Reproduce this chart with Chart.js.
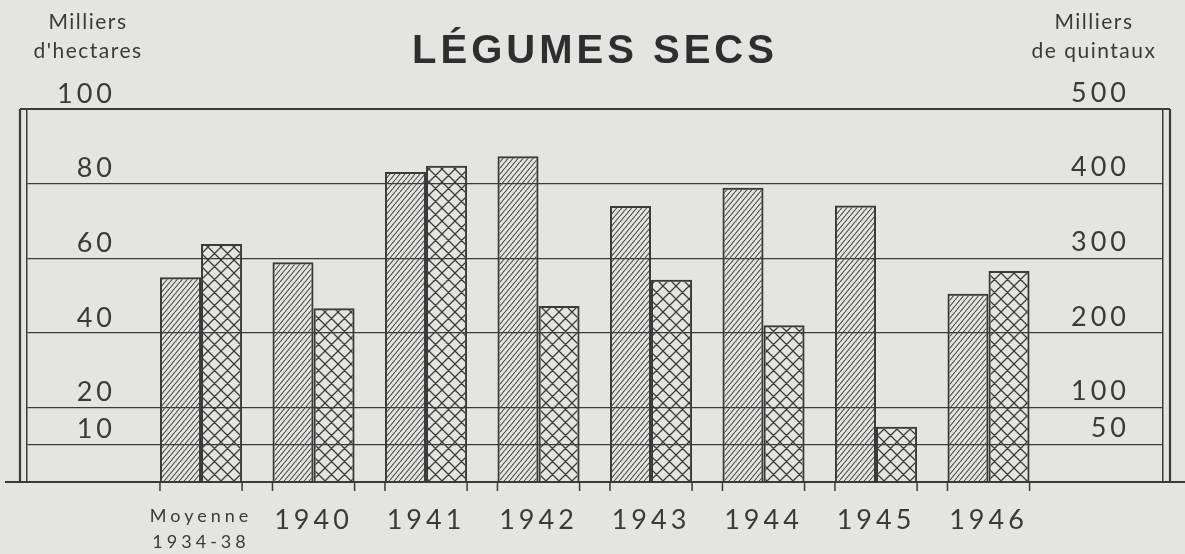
<!DOCTYPE html>
<html lang="fr">
<head>
<meta charset="utf-8">
<title>Légumes secs</title>
<script src="https://cdn.jsdelivr.net/npm/chart.js@4.4.1/dist/chart.umd.min.js"></script>
<style>
  html, body { margin: 0; padding: 0; background: #e4e4e2; }
  #wrap { position: relative; width: 1185px; height: 554px; }
</style>
</head>
<body>
<div id="wrap"><canvas id="chart"></canvas></div>
<script>
// Data
const chartTitle = "LÉGUMES SECS";
const categories = [["Moyenne", "1934-38"], "1940", "1941", "1942", "1943", "1944", "1945", "1946"];
const hectares = [54.9, 58.9, 83.1, 87.3, 74.0, 78.9, 74.1, 50.5];   // milliers d'hectares
const quintaux = [319, 233, 424, 236, 271, 210, 74, 283];            // milliers de quintaux
const hectareTicks = [10, 20, 40, 60, 80, 100];
const quintalTicks = [50, 100, 200, 300, 400, 500];
const leftUnit = ["Milliers", "d'hectares"];
const rightUnit = ["Milliers", "de quintaux"];

const INK = "#3a3a3a";

// Hatch fills
function hatchPattern() {
  const c = document.createElement("canvas");
  c.width = 5; c.height = 6;
  const g = c.getContext("2d");
  g.strokeStyle = "#484848";
  g.lineWidth = 1.1;
  g.beginPath();
  [-5, 0, 5].forEach(dx => { g.moveTo(dx, 6); g.lineTo(dx + 5, 0); });
  g.stroke();
  return g.createPattern(c, "repeat");
}

function crossPattern() {
  const s = 13;
  const c = document.createElement("canvas");
  c.width = s; c.height = s;
  const g = c.getContext("2d");
  g.strokeStyle = "#3c3c3c";
  g.lineWidth = 1.3;
  g.beginPath();
  [-s, 0, s].forEach(dx => {
    g.moveTo(dx, 0); g.lineTo(dx + s, s);
    g.moveTo(dx, s); g.lineTo(dx + s, 0);
  });
  g.stroke();
  return g.createPattern(c, "repeat");
}

// Frame, baseline, small ticks under bars, unit captions
const framePlugin = {
  id: "frame",
  beforeDraw(chart) {
    chart.ctx.letterSpacing = "4px";
  },
  afterDraw(chart) {
    const { ctx, chartArea: a } = chart;
    const y0 = chart.scales.y.getPixelForValue(0);
    const yTop = chart.scales.y.getPixelForValue(100);
    ctx.save();
    ctx.strokeStyle = INK;
    ctx.lineWidth = 2.2;
    ctx.beginPath();
    ctx.moveTo(a.left - 7, yTop); ctx.lineTo(a.left - 7, y0);
    ctx.moveTo(a.right + 7, yTop); ctx.lineTo(a.right + 7, y0);
    ctx.moveTo(a.left - 7, yTop); ctx.lineTo(a.right + 7, yTop);
    ctx.moveTo(5, y0); ctx.lineTo(chart.width, y0);
    ctx.stroke();

    const m0 = chart.getDatasetMeta(0);
    const m1 = chart.getDatasetMeta(1);
    ctx.lineWidth = 1.5;
    ctx.beginPath();
    m0.data.forEach((bar, i) => {
      const other = m1.data[i];
      const l = bar.x - bar.width / 2;
      const r = other.x + other.width / 2;
      ctx.moveTo(l, y0); ctx.lineTo(l, y0 + 9);
      ctx.moveTo(r, y0); ctx.lineTo(r, y0 + 9);
    });
    ctx.stroke();

    ctx.letterSpacing = "1.5px";
    ctx.fillStyle = INK;
    ctx.font = "400 21px Lato, 'DejaVu Sans', sans-serif";
    ctx.textAlign = "center";
    ctx.textBaseline = "alphabetic";
    leftUnit.forEach((t, k) => ctx.fillText(t, 88, 29 + 29 * k));
    rightUnit.forEach((t, k) => ctx.fillText(t, 1094, 29 + 29 * k));
    ctx.restore();
    ctx.letterSpacing = "0px";
  }
};

const tickFont = { family: "Lato, 'DejaVu Sans', sans-serif", size: 27, weight: 400 };
const smallFont = { family: "Lato, sans-serif", size: 18, weight: 400, lineHeight: 1.4 };

new Chart(document.getElementById("chart"), {
  type: "bar",
  data: {
    datasets: [
      {
        label: "Superficie",
        data: hectares.map((v, i) => ({ x: i, y: v })),
        yAxisID: "y",
        backgroundColor: hatchPattern(),
        borderColor: INK,
        borderWidth: 2,
      },
      {
        label: "Production",
        data: quintaux.map((v, i) => ({ x: i, y: v })),
        yAxisID: "y2",
        backgroundColor: crossPattern(),
        borderColor: INK,
        borderWidth: 2,
      },
    ],
  },
  options: {
    responsive: true,
    maintainAspectRatio: false,
    animation: false,
    categoryPercentage: 0.73,
    barPercentage: 1,
    layout: { padding: { left: 27, right: 22, top: 0, bottom: 0 } },
    plugins: {
      legend: { display: false },
      tooltip: { enabled: false },
      title: {
        display: true,
        text: chartTitle,
        color: "#2e2e2e",
        font: { family: "'Liberation Sans', Arial, sans-serif", size: 40, weight: "bold" },
        padding: { top: 28, bottom: 33 },
      },
    },
    scales: {
      x: {
        type: "linear",
        min: -1.547,
        max: 8.551,
        offset: false,
        grid: { display: false },
        border: { display: false },
        afterBuildTicks: s => { s.ticks = categories.map((_, i) => ({ value: i })); },
        afterFit: s => { s.height = 72; },
        ticks: {
          autoSkip: false,
          maxRotation: 0,
          padding: 14,
          color: INK,
          callback: v => categories[v],
          font: c => (c.index === 0 ? smallFont : tickFont),
        },
      },
      y: {
        position: "left",
        min: 0,
        max: 100,
        afterBuildTicks: s => { s.ticks = hectareTicks.map(v => ({ value: v })); },
        afterFit: s => { s.width = 0; },
        grid: { color: INK, lineWidth: 1.2, drawTicks: false },
        border: { display: true, color: INK, width: 1.5 },
        ticks: { mirror: true, crossAlign: "far", padding: 42, labelOffset: -15, color: INK, font: tickFont },
      },
      y2: {
        position: "right",
        min: 0,
        max: 500,
        afterBuildTicks: s => { s.ticks = quintalTicks.map(v => ({ value: v })); },
        afterFit: s => { s.width = 0; },
        grid: { display: false, drawTicks: false },
        border: { display: true, color: INK, width: 1.5 },
        ticks: { mirror: true, padding: -33, labelOffset: -16, color: INK, font: tickFont },
      },
    },
  },
  plugins: [framePlugin],
});
</script>
</body>
</html>
